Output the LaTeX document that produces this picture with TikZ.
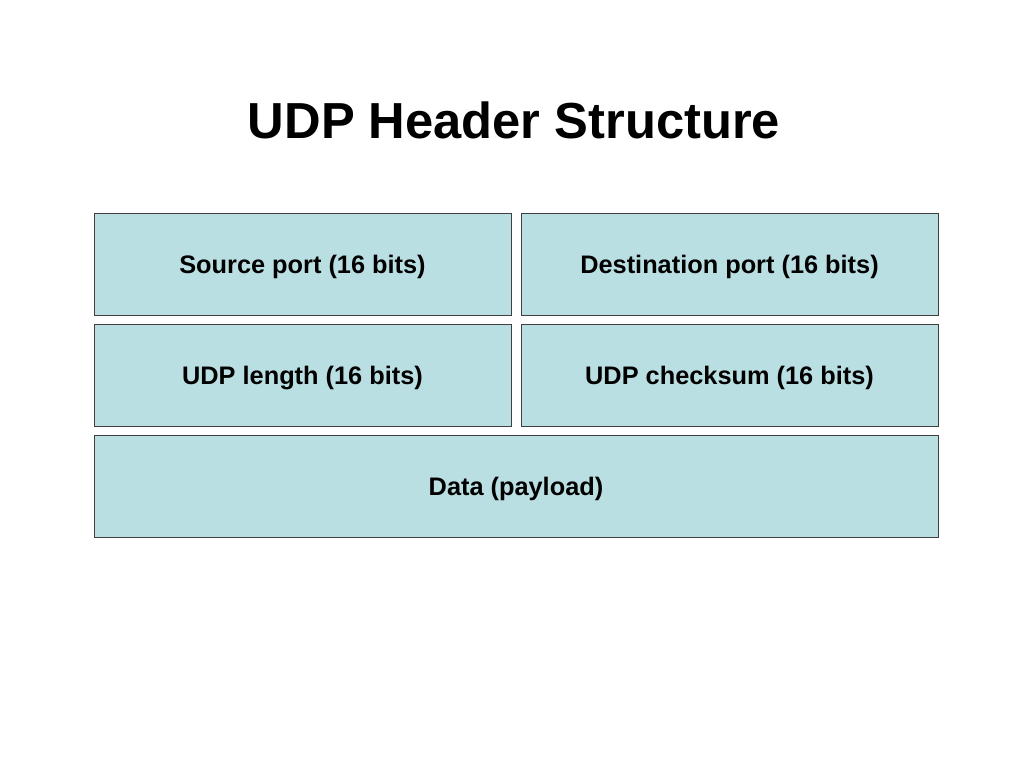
\documentclass[tikz,border=0pt]{standalone}
\usepackage{fontspec}
\setmainfont{Liberation Sans}
\definecolor{fieldblue}{HTML}{BADFE3}
\tikzset{
  field/.style={draw=black!75, fill=fieldblue, line width=0.6pt, inner sep=0pt,
    minimum height=76.5pt, text height=13.6pt, text depth=0pt,
    font=\fontsize{19}{22}\selectfont\bfseries},
  half/.style={field, minimum width=312.75pt},
  full/.style={field, minimum width=633pt}
}
\begin{document}
\begin{tikzpicture}[x=0.75pt, y=-0.75pt]
\useasboundingbox (0,0) rectangle (1024,768);
% Title
\node (title) at (514,120) {\fontsize{38}{45}\selectfont\bfseries UDP Header Structure};

% Header fields
\node[half] (src) at (302.5,264) {Source port (16 bits)};
\node[half] (dst) at (729.5,264) {Destination port (16 bits)};
\node[half] (len) at (302.5,375) {UDP length (16 bits)};
\node[half] (chk) at (729.5,375) {UDP checksum (16 bits)};

% Payload
\node[full] (data) at (516,486) {Data (payload)};
\end{tikzpicture}
\end{document}
